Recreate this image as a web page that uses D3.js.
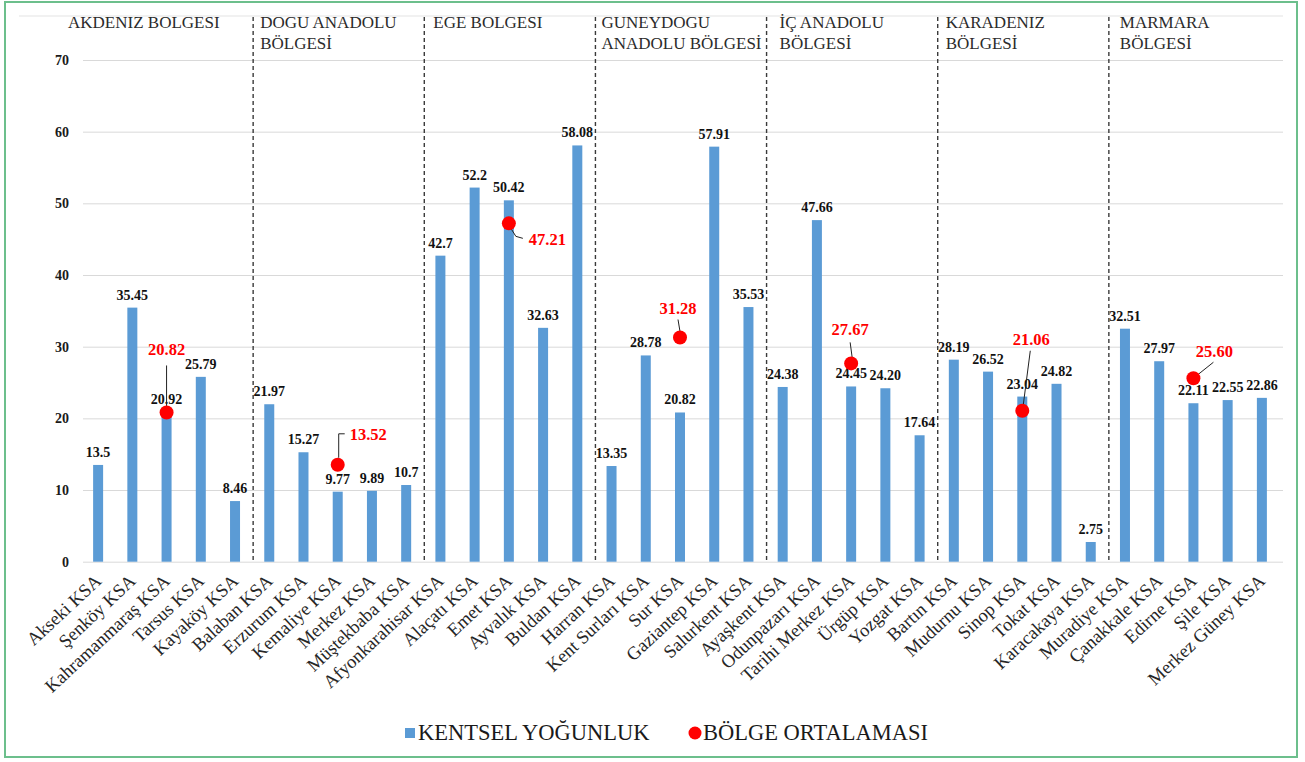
<!DOCTYPE html>
<html>
<head>
<meta charset="utf-8">
<script src="https://cdnjs.cloudflare.com/ajax/libs/d3/7.8.5/d3.min.js"></script>
<style>
  html, body { margin: 0; padding: 0; background: #fff; }
  svg { display: block; }
  svg text { font-family: "Liberation Serif", "DejaVu Serif", "Noto Serif", "Times New Roman", Times, serif !important; }
</style>
</head>
<body>
<svg id="chart" width="1305" height="762"></svg>
<script>
// ---------- DATA ----------
const categories = [
  "Akseki KSA", "Şenköy KSA", "Kahramanmaraş KSA", "Tarsus KSA", "Kayaköy KSA",
  "Balaban KSA", "Erzurum KSA", "Kemaliye KSA", "Merkez KSA", "Müştekbaba KSA",
  "Afyonkarahisar KSA", "Alaçatı KSA", "Emet KSA", "Ayvalık KSA", "Buldan KSA",
  "Harran KSA", "Kent Surları KSA", "Sur KSA", "Gaziantep KSA", "Salurkent KSA",
  "Ayaşkent KSA", "Odunpazarı KSA", "Tarihi Merkez KSA", "Ürgüp KSA", "Yozgat KSA",
  "Bartın KSA", "Mudurnu KSA", "Sinop KSA", "Tokat KSA", "Karacakaya KSA",
  "Muradiye KSA", "Çanakkale KSA", "Edirne KSA", "Şile KSA", "Merkez Güney KSA"
];
const urbanDensity = [
  13.5, 35.45, 20.92, 25.79, 8.46,
  21.97, 15.27, 9.77, 9.89, 10.7,
  42.7, 52.2, 50.42, 32.63, 58.08,
  13.35, 28.78, 20.82, 57.91, 35.53,
  24.38, 47.66, 24.45, 24.20, 17.64,
  28.19, 26.52, 23.04, 24.82, 2.75,
  32.51, 27.97, 22.11, 22.55, 22.86
];
const densityLabels = [
  "13.5", "35.45", "20.92", "25.79", "8.46",
  "21.97", "15.27", "9.77", "9.89", "10.7",
  "42.7", "52.2", "50.42", "32.63", "58.08",
  "13.35", "28.78", "20.82", "57.91", "35.53",
  "24.38", "47.66", "24.45", "24.20", "17.64",
  "28.19", "26.52", "23.04", "24.82", "2.75",
  "32.51", "27.97", "22.11", "22.55", "22.86"
];
const regionNames = [
  ["AKDENIZ BOLGESI"],
  ["DOGU ANADOLU", "BÖLGESİ"],
  ["EGE BOLGESI"],
  ["GUNEYDOGU", "ANADOLU BÖLGESİ"],
  ["İÇ ANADOLU", "BÖLGESİ"],
  ["KARADENIZ", "BÖLGESİ"],
  ["MARMARA", "BÖLGESİ"]
];
const regionSize = 5;
const regionAverages = [20.82, 13.52, 47.21, 31.28, 27.67, 21.06, 25.60];
const regionAverageLabels = ["20.82", "13.52", "47.21", "31.28", "27.67", "21.06", "25.60"];
const regionAverageAt = ["Kahramanmaraş KSA", "Kemaliye KSA", "Emet KSA", "Sur KSA", "Tarihi Merkez KSA", "Sinop KSA", "Edirne KSA"];
const yTicks = [0, 10, 20, 30, 40, 50, 60, 70];
const legendLabels = ["KENTSEL YOĞUNLUK", "BÖLGE ORTALAMASI"];

// ---------- LAYOUT / STYLE ----------
const FONT = '"Liberation Serif", "DejaVu Serif", "Noto Serif", serif';
const barColor = "#5b9bd5";
const dotColor = "#ff0000";
const plotLeft = 81, plotRight = 1279;
const gridLeft = 83, gridRight = 1283;
const headerOffsets = [-13, 8, 10, 7, 14, 9, 12];
const avgLabelLayout = [
  {dx: 0,  dy: -57, anchor: "middle", leader: [[0, -47], [0, -6]]},
  {dx: 12, dy: -25, anchor: "start",  leader: [[1, -7], [1, -31], [7, -31]]},
  {dx: 20, dy: 22,  anchor: "start",  leader: [[2, 5], [7, 13], [14, 15]]},
  {dx: -2, dy: -24, anchor: "middle", leader: [[-2, -18], [0, -6]]},
  {dx: -1, dy: -28, anchor: "middle", leader: [[-1, -21], [1, -6]]},
  {dx: 9,  dy: -66, anchor: "middle", leader: [[8, -60], [1, -6]]},
  {dx: 21, dy: -21, anchor: "middle", leader: [[20, -16], [5, -4]]}
];

const svg = d3.select("#chart").attr("font-family", FONT);

svg.append("rect")
  .attr("x", 5).attr("y", 2).attr("width", 1292).attr("height", 755)
  .attr("fill", "none").attr("stroke", "#6cbf8c").attr("stroke-width", 2);

svg.append("line")
  .attr("x1", 19).attr("x2", gridRight).attr("y1", 16).attr("y2", 16)
  .attr("stroke", "#e3e3e3").attr("stroke-width", 1);

const x = d3.scaleBand()
  .domain(categories)
  .range([plotLeft, plotRight])
  .paddingInner(0.708)
  .paddingOuter(0.354);
const y = d3.scaleLinear().domain([0, 70]).range([561.7, 60]);
const cx = d => x(d) + x.bandwidth() / 2;

const yAxis = svg.append("g")
  .attr("transform", `translate(${gridLeft},0)`)
  .call(d3.axisLeft(y).tickValues(yTicks).tickSize(-(gridRight - gridLeft)).tickPadding(14).tickFormat(d3.format("d")));
yAxis.attr("font-family", FONT);
yAxis.select(".domain").remove();
yAxis.selectAll(".tick line").attr("stroke", "#d9d9d9").attr("stroke-width", 1);
yAxis.selectAll(".tick text")
  .attr("font-size", 14).attr("font-weight", "bold").attr("fill", "#1a1a1a");

const step = x.step();
const gap = (step - x.bandwidth()) / 2;
const dividerIdx = d3.range(1, regionNames.length).map(i => i * regionSize);
svg.append("g").selectAll("line")
  .data(dividerIdx)
  .join("line")
  .attr("x1", i => x(categories[i]) - gap + 1)
  .attr("x2", i => x(categories[i]) - gap + 1)
  .attr("y1", 17).attr("y2", 561)
  .attr("stroke", "#3a3a3a").attr("stroke-width", 1.4)
  .attr("stroke-dasharray", "4,3");

const headerG = svg.append("g");
regionNames.forEach((lines, gi) => {
  const first = categories[gi * regionSize];
  const tx = x(first) - gap + headerOffsets[gi];
  const t = headerG.append("text")
    .attr("x", tx).attr("y", 28)
    .attr("font-size", 17).attr("fill", "#2b2b2b");
  lines.forEach((ln, li) => {
    t.append("tspan").attr("x", tx).attr("y", 28 + li * 21).text(ln);
  });
});

svg.append("g").selectAll("rect")
  .data(categories)
  .join("rect")
  .attr("x", d => x(d))
  .attr("width", x.bandwidth())
  .attr("y", (d, i) => y(urbanDensity[i]))
  .attr("height", (d, i) => y(0) - y(urbanDensity[i]))
  .attr("fill", barColor);

svg.append("g").selectAll("text")
  .data(categories)
  .join("text")
  .attr("x", d => cx(d))
  .attr("y", (d, i) => y(urbanDensity[i]) - 8)
  .attr("text-anchor", "middle")
  .attr("font-size", 14).attr("font-weight", "bold").attr("fill", "#111")
  .text((d, i) => densityLabels[i]);

const xAxis = svg.append("g")
  .attr("transform", `translate(0,${y(0)})`)
  .call(d3.axisBottom(x).tickSize(0).tickPadding(0));
xAxis.attr("font-family", FONT);
xAxis.select(".domain").remove();
xAxis.selectAll(".tick text")
  .attr("font-size", 18.5).attr("fill", "#262626")
  .attr("text-anchor", "end")
  .attr("transform", "translate(0,16) rotate(-43)")
  .attr("dy", "0.35em").attr("y", 0).attr("x", 0);

const avgG = svg.append("g");
regionAverages.forEach((v, i) => {
  const px = cx(regionAverageAt[i]);
  const py = y(v);
  const L = avgLabelLayout[i];
  avgG.append("path")
    .attr("d", d3.line()(L.leader.map(p => [px + p[0], py + p[1]])))
    .attr("fill", "none").attr("stroke", "#222").attr("stroke-width", 1);
});
avgG.selectAll("circle")
  .data(regionAverages)
  .join("circle")
  .attr("cx", (v, i) => cx(regionAverageAt[i]))
  .attr("cy", v => y(v))
  .attr("r", 7)
  .attr("fill", dotColor);
avgG.selectAll("text")
  .data(regionAverages)
  .join("text")
  .attr("x", (v, i) => cx(regionAverageAt[i]) + avgLabelLayout[i].dx)
  .attr("y", (v, i) => y(v) + avgLabelLayout[i].dy)
  .attr("text-anchor", (v, i) => avgLabelLayout[i].anchor)
  .attr("font-size", 16.5).attr("font-weight", "bold").attr("fill", dotColor)
  .text((v, i) => regionAverageLabels[i]);

const lg = svg.append("g");
lg.append("rect").attr("x", 405).attr("y", 728).attr("width", 10).attr("height", 10).attr("fill", barColor);
lg.append("text").attr("x", 418).attr("y", 740).attr("font-size", 22.5).attr("fill", "#1a1a1a").text(legendLabels[0]);
lg.append("circle").attr("cx", 695).attr("cy", 733).attr("r", 6.5).attr("fill", dotColor);
lg.append("text").attr("x", 703).attr("y", 740).attr("font-size", 22.5).attr("fill", "#1a1a1a").text(legendLabels[1]);
</script>
</body>
</html>
